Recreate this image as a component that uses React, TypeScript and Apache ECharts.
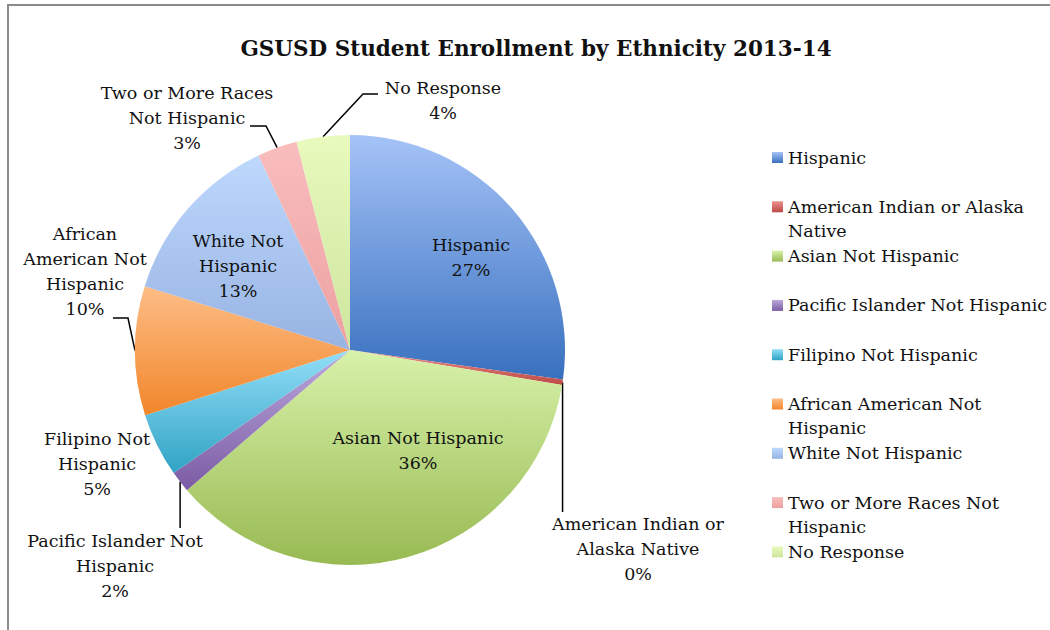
import React, { useEffect, useRef } from "react";
import * as echarts from "echarts";

const titleText = "GSUSD Student Enrollment by Ethnicity 2013-14";

const categories = [
  "Hispanic",
  "American Indian or Alaska Native",
  "Asian Not Hispanic",
  "Pacific Islander Not Hispanic",
  "Filipino Not Hispanic",
  "African American Not Hispanic",
  "White Not Hispanic",
  "Two or More Races Not Hispanic",
  "No Response",
];

const shares = [27.2, 0.4, 36.1, 1.6, 4.8, 9.7, 13.2, 3.0, 4.0];

const sliceLabels = [
  "Hispanic",
  "American Indian or\nAlaska Native",
  "Asian Not Hispanic",
  "Pacific Islander Not\nHispanic",
  "Filipino Not\nHispanic",
  "African\nAmerican Not\nHispanic",
  "White Not\nHispanic",
  "Two or More Races\nNot Hispanic",
  "No Response",
];

const legendLabels = [
  "Hispanic",
  "American Indian or Alaska\nNative",
  "Asian Not Hispanic",
  "Pacific Islander Not Hispanic",
  "Filipino Not Hispanic",
  "African American Not\nHispanic",
  "White Not Hispanic",
  "Two or More Races Not\nHispanic",
  "No Response",
];

const gradientTops = ["#a5c3f7", "#ec8f8c", "#d8f2aa", "#bba9dd", "#93def8", "#fdbd86", "#bed8fd", "#f9bdbd", "#e8fabd"];
const gradientBottoms = ["#3870bf", "#bd4a47", "#98ba52", "#7b5ba4", "#30a3c4", "#f2862a", "#97b3e2", "#eda0a0", "#cde59d"];

// layout (not data)
const insideIdx = [0, 2, 6];
const noLineIdx = [0, 2, 4, 6];
const labelAnchors: number[][] = [
  [471, 257], [638, 549], [418, 450], [115, 566], [97, 464], [85, 271], [238, 266], [187, 118], [443, 100],
];
const elbows: (number | null)[][][] = [
  [], [[null, 450], [null, 512]], [], [[null, 505], [null, 528]], [], [[128, 318], [113, 318]], [], [[266, 126], [250, 126]], [[363, 94], [378, 94]],
];

const FONT = "DejaVu Serif";

export default function App() {
  const ref = useRef<HTMLDivElement>(null);
  useEffect(() => {
    if (!ref.current) return;
    const chart = echarts.init(ref.current, undefined, { renderer: "svg" });
    const grad = (i: number) =>
      new echarts.graphic.LinearGradient(0, 0, 0, 1, [
        { offset: 0, color: gradientTops[i] },
        { offset: 1, color: gradientBottoms[i] },
      ]);

    const legends = categories.map((name, i) => {
      const twoLine = legendLabels[i].indexOf("\n") >= 0;
      const iconTop = 152 + i * 49.3;
      return {
        orient: "vertical",
        left: 772,
        top: iconTop + 5.5 - (twoLine ? 36 : 12),
        padding: 0,
        itemGap: 0,
        itemWidth: 11,
        itemHeight: 11,
        icon: "rect",
        selectedMode: false,
        data: [name],
        formatter: () => (twoLine ? "\n" : "") + legendLabels[i],
        textStyle: {
          fontFamily: FONT,
          fontSize: 17.5,
          lineHeight: 24,
          color: "#111",
        },
      };
    });

    const option: any = {
      animation: false,
      backgroundColor: "#fff",
      title: {
        text: titleText,
        left: 531,
        top: 32,
        textAlign: "center",
        textStyle: { fontFamily: FONT, fontWeight: "bold", fontSize: 21.5, color: "#111" },
      },
      legend: legends,
      graphic: [
        {
          type: "rect",
          shape: { x: 8, y: 5, width: 1200, height: 800 },
          style: { fill: "none", stroke: "#8a8a8a", lineWidth: 2 },
          silent: true,
        },
      ],
      series: [
        {
          type: "pie",
          center: [350, 350],
          radius: 215,
          startAngle: 90,
          clockwise: true,
          avoidLabelOverlap: false,
          itemStyle: { borderWidth: 0 },
          label: {
            show: true,
            position: "outside",
            fontFamily: FONT,
            fontSize: 17.5,
            lineHeight: 25,
            color: "#111",
            align: "center",
            formatter: (p: any) => sliceLabels[p.dataIndex] + "\n" + Math.round(p.percent) + "%",
          },
          labelLine: { show: true, length: 10, length2: 10, lineStyle: { color: "#000", width: 1.5 } },
          labelLayout: (p: any) => {
            const i = p.dataIndex;
            const a = labelAnchors[i];
            const res: any = { x: a[0], y: a[1], align: "center", verticalAlign: "middle" };
            const pts = p.labelLinePoints;
            if (pts && pts.length && elbows[i].length) {
              const p0 = pts[0];
              res.labelLinePoints = [p0, ...elbows[i].map((e) => [e[0] == null ? p0[0] : e[0], e[1]])];
            }
            return res;
          },
          emphasis: { disabled: true },
          data: categories.map((name, i) => ({
            name,
            value: shares[i],
            itemStyle: { color: grad(i) },
            label: insideIdx.indexOf(i) >= 0 ? { position: "inside" } : undefined,
            labelLine: noLineIdx.indexOf(i) >= 0 ? { show: false } : undefined,
          })),
        },
      ],
    };
    chart.setOption(option);
    return () => chart.dispose();
  }, []);
  return <div ref={ref} style={{ position: "absolute", left: 0, top: 0, width: 1050, height: 630 }} />;
}
